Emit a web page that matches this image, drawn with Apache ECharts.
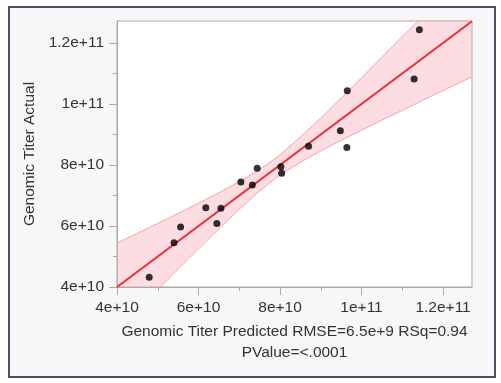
<!DOCTYPE html>
<html>
<head>
<meta charset="utf-8">
<script src="https://cdn.jsdelivr.net/npm/echarts@6/dist/echarts.min.js"></script>
<style>
html,body{margin:0;padding:0;background:#ffffff;}
#chart{width:501px;height:383px;}
</style>
</head>
<body>
<div id="chart"></div>
<script>
// Data (values in units of 1e10)
const predicted = [4.79, 5.40, 5.56, 6.18, 6.55, 6.45, 7.04, 7.32, 7.44, 8.02, 8.04, 8.70, 9.48, 9.64, 9.65, 11.42, 11.29];
const actual    = [4.32, 5.45, 5.97, 6.60, 6.58, 6.08, 7.44, 7.34, 7.89, 7.94, 7.73, 8.61, 9.12, 8.57, 10.43, 12.43, 10.82];
const fitX = [4.0, 12.71];
const fitY = [4.0, 12.71];
const bandX     = [4.0, 4.5, 5.0, 5.5, 6.0, 6.5, 7.0, 7.5, 7.83, 8.0, 8.5, 9.0, 9.5, 10.0, 10.5, 11.0, 11.5, 12.0, 12.71];
const bandUpper = [5.44, 5.76, 6.09, 6.41, 6.75, 7.09, 7.45, 7.85, 8.16, 8.33, 8.92, 9.54, 10.19, 10.86, 11.53, 12.21, 12.88, 13.56, 14.53];
const bandLower = [2.56, 3.24, 3.91, 4.59, 5.25, 5.91, 6.55, 7.15, 7.50, 7.67, 8.09, 8.46, 8.81, 9.14, 9.47, 9.79, 10.12, 10.44, 10.89];
const tickValues = [4, 6, 8, 10, 12];
const tickLabels = ['4e+10', '6e+10', '8e+10', '1e+11', '1.2e+11'];
const minorValues = [5, 7, 9, 11];
const xMin = 4, xMax = 12.71, yMin = 4, yMax = 12.72;
const SCALE = 1e10;

const s = v => v * SCALE;
const fmt = v => {
  const i = tickValues.findIndex(t => Math.abs(s(t) - v) < 1e6);
  return i >= 0 ? tickLabels[i] : '';
};
const FONT = 'Liberation Sans';
const FS = 15.5;
const textColor = '#333333';
const frameColor = '#a9a9a9';

const mainAxis = (isX) => ({
  type: 'value',
  min: s(isX ? xMin : yMin),
  max: s(isX ? xMax : yMax),
  interval: 2 * SCALE,
  axisLine: {show: true, lineStyle: {color: frameColor, width: 1}},
  axisTick: {show: true, length: 8, lineStyle: {color: frameColor}, customValues: tickValues.map(s)},
  axisLabel: {show: true, margin: 13, fontFamily: FONT, fontSize: FS, color: textColor, formatter: fmt, customValues: tickValues.map(s)},
  splitLine: {show: false},
  minorTick: {show: false}
});
const minorAxis = (isX) => ({
  type: 'value',
  min: s(isX ? xMin : yMin),
  max: s(isX ? xMax : yMax),
  position: isX ? 'bottom' : 'left',
  axisLine: {show: false},
  axisTick: {show: true, length: 4, lineStyle: {color: frameColor}, customValues: minorValues.map(s)},
  axisLabel: {show: false},
  splitLine: {show: false}
});

const xMain = mainAxis(true);
xMain.name = 'Genomic Titer Predicted RMSE=6.5e+9 RSq=0.94\nPValue=<.0001';
xMain.nameLocation = 'middle';
xMain.nameGap = 34;
xMain.nameTextStyle = {fontFamily: FONT, fontSize: FS, color: textColor, lineHeight: 21};
const yMain = mainAxis(false);
yMain.name = 'Genomic Titer Actual';
yMain.nameLocation = 'middle';
yMain.nameGap = 79;
yMain.nameTextStyle = {fontFamily: FONT, fontSize: FS, color: textColor};

const bandData = bandX.map((x, i) => [s(x), s(bandLower[i]), s(bandUpper[i])]);

const chart = echarts.init(document.getElementById('chart'), null, {renderer: 'canvas'});
chart.setOption({
  animation: false,
  backgroundColor: '#ffffff',
  graphic: [{
    type: 'rect', z: -10, silent: true,
    shape: {x: 9, y: 7, width: 486, height: 370},
    style: {fill: '#f7f7f7', stroke: '#4b5263', lineWidth: 2}
  }],
  grid: {left: 117, top: 21, right: 29, bottom: 96, show: true, backgroundColor: '#ffffff', borderColor: frameColor, borderWidth: 1},
  xAxis: [xMain, minorAxis(true)],
  yAxis: [yMain, minorAxis(false)],
  series: [
    {
      type: 'custom',
      data: bandData,
      encode: {x: 0, y: [1, 2]},
      z: 1,
      renderItem: function (params, api) {
        if (params.dataIndex !== 0) return null;
        const n = bandData.length;
        const up = [], lo = [];
        for (let i = 0; i < n; i++) {
          up.push(api.coord([bandData[i][0], bandData[i][2]]));
          lo.push(api.coord([bandData[i][0], bandData[i][1]]));
        }
        const poly = up.concat(lo.slice().reverse());
        const cs = params.coordSys;
        return {
          type: 'group',
          clipPath: {type: 'rect', shape: {x: cs.x, y: cs.y, width: cs.width, height: cs.height}},
          children: [
            {type: 'polygon', shape: {points: poly, smooth: 0}, style: {fill: 'rgba(250,170,182,0.40)', stroke: 'none'}},
            {type: 'polyline', shape: {points: up}, style: {stroke: '#f5a3ab', lineWidth: 1, fill: 'none'}},
            {type: 'polyline', shape: {points: lo}, style: {stroke: '#f5a3ab', lineWidth: 1, fill: 'none'}}
          ]
        };
      }
    },
    {
      type: 'line', symbol: 'none',
      data: fitX.map((x, i) => [s(x), s(fitY[i])]),
      lineStyle: {color: '#ec2a3a', width: 2},
      z: 2
    },
    {
      type: 'scatter', symbol: 'circle', symbolSize: 7,
      data: predicted.map((x, i) => [s(x), s(actual[i])]),
      itemStyle: {color: '#000000'},
      z: 3
    }
  ]
});
</script>
</body>
</html>
